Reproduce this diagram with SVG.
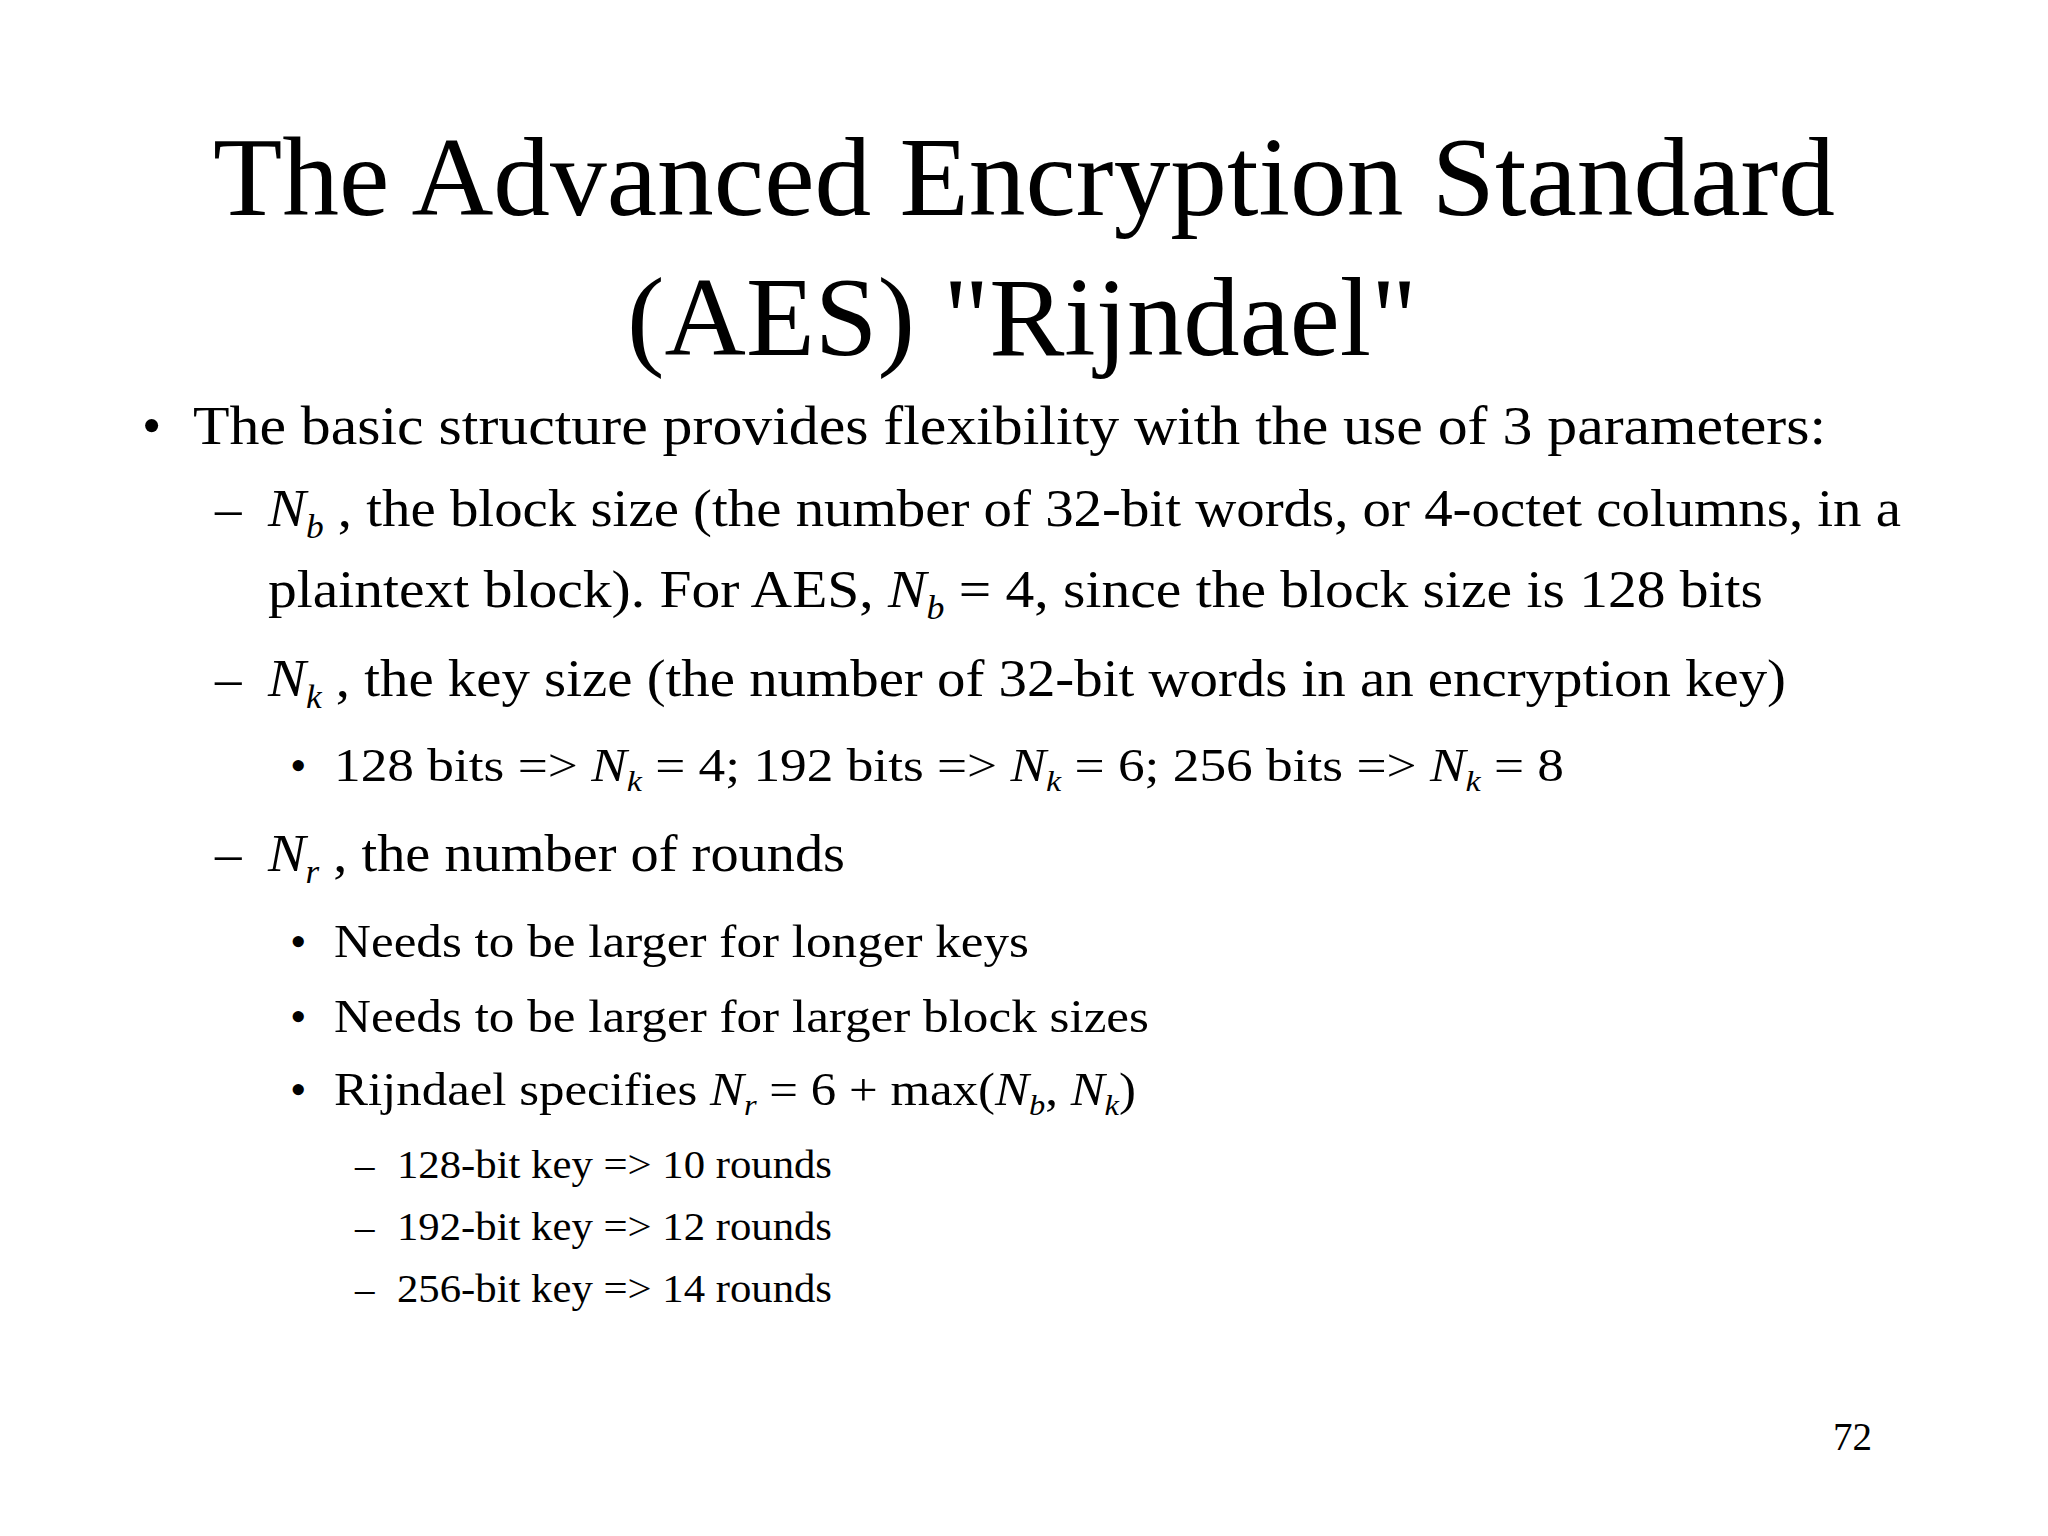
<svg xmlns="http://www.w3.org/2000/svg" width="2048" height="1536" viewBox="0 0 2048 1536" xml:space="preserve">
<style>
text{font-family:"Liberation Serif","Times New Roman",serif;fill:#000}
.t{font-size:112px}
.l1{font-size:55px}
.l2{font-size:53px}
.l3{font-size:47px}
.l4{font-size:39px}
.i{font-style:italic}
</style>
<rect width="2048" height="1536" fill="#fff"/>
<g id="title">
<text class="t" x="213" y="215" textLength="1622" lengthAdjust="spacingAndGlyphs">The Advanced Encryption Standard</text>
<text class="t" x="627" y="355" textLength="790" lengthAdjust="spacingAndGlyphs">(AES) "Rijndael"</text>
</g>
<g id="body">
<text class="l1" x="142" y="444">•</text>
<text class="l1" x="193" y="444" textLength="1633" lengthAdjust="spacingAndGlyphs">The basic structure provides flexibility with the use of 3 parameters:</text>
<text class="l2" x="215" y="526">–</text>
<text class="l2" x="268" y="526" textLength="1633" lengthAdjust="spacingAndGlyphs"><tspan class="i">N</tspan><tspan class="i" font-size="33" dy="12">b</tspan><tspan dy="-12"> , the block size (the number of 32-bit words, or 4-octet columns, in a</tspan></text>
<text class="l2" x="268" y="607" textLength="1495" lengthAdjust="spacingAndGlyphs">plaintext block).  For AES, <tspan class="i">N</tspan><tspan class="i" font-size="33" dy="12">b</tspan><tspan dy="-12"> = 4, since the block size is 128 bits</tspan></text>
<text class="l2" x="215" y="696">–</text>
<text class="l2" x="268" y="696" textLength="1518" lengthAdjust="spacingAndGlyphs"><tspan class="i">N</tspan><tspan class="i" font-size="33" dy="12">k</tspan><tspan dy="-12"> , the key size (the number of 32-bit words in an encryption key)</tspan></text>
<text class="l3" x="290" y="781">•</text>
<text class="l3" x="334" y="781" textLength="1230" lengthAdjust="spacingAndGlyphs">128 bits =&gt; <tspan class="i">N</tspan><tspan class="i" font-size="30" dy="10">k</tspan><tspan dy="-10"> = 4;   192 bits =&gt; </tspan><tspan class="i">N</tspan><tspan class="i" font-size="30" dy="10">k</tspan><tspan dy="-10"> = 6;   256 bits =&gt; </tspan><tspan class="i">N</tspan><tspan class="i" font-size="30" dy="10">k</tspan><tspan dy="-10"> = 8</tspan></text>
<text class="l2" x="215" y="871">–</text>
<text class="l2" x="268" y="871" textLength="577" lengthAdjust="spacingAndGlyphs"><tspan class="i">N</tspan><tspan class="i" font-size="33" dy="12">r</tspan><tspan dy="-12"> , the number of rounds</tspan></text>
<text class="l3" x="290" y="957">•</text>
<text class="l3" x="334" y="957" textLength="695" lengthAdjust="spacingAndGlyphs">Needs to be larger for longer keys</text>
<text class="l3" x="290" y="1032">•</text>
<text class="l3" x="334" y="1032" textLength="815" lengthAdjust="spacingAndGlyphs">Needs to be larger for larger block sizes</text>
<text class="l3" x="290" y="1105">•</text>
<text class="l3" x="334" y="1105" textLength="802" lengthAdjust="spacingAndGlyphs">Rijndael specifies <tspan class="i">N</tspan><tspan class="i" font-size="30" dy="10">r</tspan><tspan dy="-10"> = 6 + max(</tspan><tspan class="i">N</tspan><tspan class="i" font-size="30" dy="10">b</tspan><tspan dy="-10">, </tspan><tspan class="i">N</tspan><tspan class="i" font-size="30" dy="10">k</tspan><tspan dy="-10">)</tspan></text>
<text class="l4" x="355" y="1178">–</text>
<text class="l4" x="397" y="1178" textLength="435" lengthAdjust="spacingAndGlyphs">128-bit key =&gt; 10 rounds</text>
<text class="l4" x="355" y="1240">–</text>
<text class="l4" x="397" y="1240" textLength="435" lengthAdjust="spacingAndGlyphs">192-bit key =&gt; 12 rounds</text>
<text class="l4" x="355" y="1302">–</text>
<text class="l4" x="397" y="1302" textLength="435" lengthAdjust="spacingAndGlyphs">256-bit key =&gt; 14 rounds</text>
<text class="l4" x="1872" y="1450" text-anchor="end">72</text>
</g>
</svg>
